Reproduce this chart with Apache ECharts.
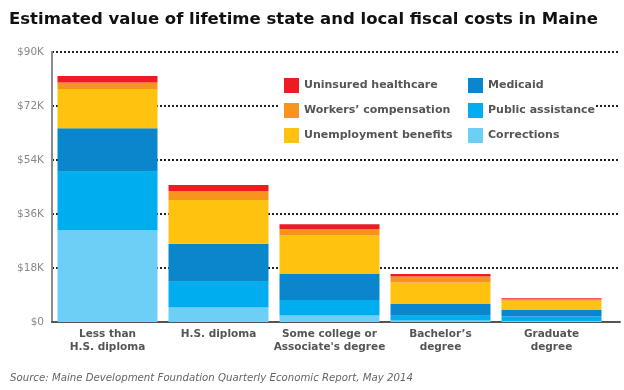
<!DOCTYPE html>
<html>
<head>
<meta charset="utf-8">
<script src="https://cdn.jsdelivr.net/npm/echarts@6/dist/echarts.min.js"></script>
<style>
html,body{margin:0;padding:0;background:#fff;}
#chart{width:624px;height:390px;}
</style>
</head>
<body>
<div id="chart"></div>
<script>
// Data (thousands of dollars)
const categories = ['Less than\nH.S. diploma', 'H.S. diploma', "Some college or\nAssociate's degree", 'Bachelor\u2019s\ndegree', 'Graduate\ndegree'];
const corrections = [30.6, 4.8, 2.2, 0.5, 0.3];
const publicAssistance = [19.5, 8.6, 5.1, 1.6, 1.5];
const medicaid = [14.5, 12.7, 8.7, 3.9, 2.2];
const unemployment = [13.1, 14.6, 12.8, 7.2, 3.1];
const workersComp = [2.1, 3.0, 2.2, 2.0, 0.5];
const uninsured = [2.2, 2.0, 1.6, 0.8, 0.3];
const yTickValues = [0, 18, 36, 54, 72, 90];
const yTickLabels = ['$0', '$18K', '$36K', '$54K', '$72K', '$90K'];

const colors = {
  uninsured: '#ED1C24',
  workers: '#F7941D',
  unemployment: '#FFC20E',
  medicaid: '#0A86CD',
  public: '#00AEEF',
  corrections: '#6DCFF6'
};

const chart = echarts.init(document.getElementById('chart'), null, {renderer: 'canvas'});
const fontFam = 'DejaVu Sans, Verdana, sans-serif';

function mk(name, data, color) {
  return {
    name: name, type: 'bar', stack: 'total', data: data,
    xAxisIndex: 1, yAxisIndex: 1, barWidth: 100,
    itemStyle: {color: color},
    emphasis: {disabled: true}
  };
}

const option = {
  animation: false,
  title: [
    {
      text: 'Estimated value of lifetime state and local fiscal costs in Maine',
      left: 4, top: 6,
      textStyle: {fontFamily: fontFam, fontWeight: 'bold', fontSize: 16.5, color: '#111'}
    },
    {
      text: 'Source: Maine Development Foundation Quarterly Economic Report, May 2014',
      left: 5, top: 368,
      textStyle: {fontFamily: fontFam, fontStyle: 'italic', fontWeight: 'normal', fontSize: 10.2, color: '#666'}
    }
  ],
  graphic: [{
    type: 'rect', z: 3,
    shape: {x: 278, y: 67, width: 318, height: 77},
    style: {fill: '#ffffff'}
  }],
  legend: [
    {
      orient: 'vertical', left: 279, top: 73, itemWidth: 15, itemHeight: 15, itemGap: 10,
      selectedMode: false, icon: 'rect', z: 5,
      data: ['Uninsured healthcare', 'Workers\u2019 compensation', 'Unemployment benefits'],
      textStyle: {fontFamily: fontFam, fontWeight: 'bold', fontSize: 11, color: '#555'}
    },
    {
      orient: 'vertical', left: 463, top: 73, itemWidth: 15, itemHeight: 15, itemGap: 10,
      selectedMode: false, icon: 'rect', z: 5,
      data: ['Medicaid', 'Public assistance', 'Corrections'],
      textStyle: {fontFamily: fontFam, fontWeight: 'bold', fontSize: 11, color: '#555'}
    }
  ],
  grid: [
    {left: 52, right: 4, top: 52, bottom: 68},
    {left: 52, right: 17, top: 52, bottom: 68}
  ],
  xAxis: [
    {
      gridIndex: 0, type: 'value', min: 0, max: 1,
      axisLine: {show: true, onZero: false, lineStyle: {color: '#555', width: 2}},
      axisTick: {show: false}, axisLabel: {show: false}, splitLine: {show: false}
    },
    {
      gridIndex: 1, type: 'category', data: categories,
      axisLine: {show: false}, axisTick: {show: false},
      axisLabel: {
        interval: 0, margin: 6, lineHeight: 13,
        fontFamily: fontFam, fontWeight: 'bold', fontSize: 10.5, color: '#555'
      }
    }
  ],
  yAxis: [
    {
      gridIndex: 0, type: 'value', min: 0, max: 90, interval: 18,
      axisLine: {show: true, lineStyle: {color: '#8a8a8a', width: 2}},
      axisTick: {show: false},
      axisLabel: {
        margin: 8, fontFamily: fontFam, fontSize: 10.5, color: '#888',
        formatter: function (v) { const i = yTickValues.indexOf(v); return i >= 0 ? yTickLabels[i] : ''; }
      },
      splitLine: {show: true, lineStyle: {type: [2, 2], color: '#222', width: 2}}
    },
    {
      gridIndex: 1, type: 'value', min: 0, max: 90, interval: 18,
      show: false
    }
  ],
  series: [
    mk('Corrections', corrections, colors.corrections),
    mk('Public assistance', publicAssistance, colors.public),
    mk('Medicaid', medicaid, colors.medicaid),
    mk('Unemployment benefits', unemployment, colors.unemployment),
    mk('Workers\u2019 compensation', workersComp, colors.workers),
    mk('Uninsured healthcare', uninsured, colors.uninsured)
  ]
};
chart.setOption(option);
</script>
</body>
</html>
